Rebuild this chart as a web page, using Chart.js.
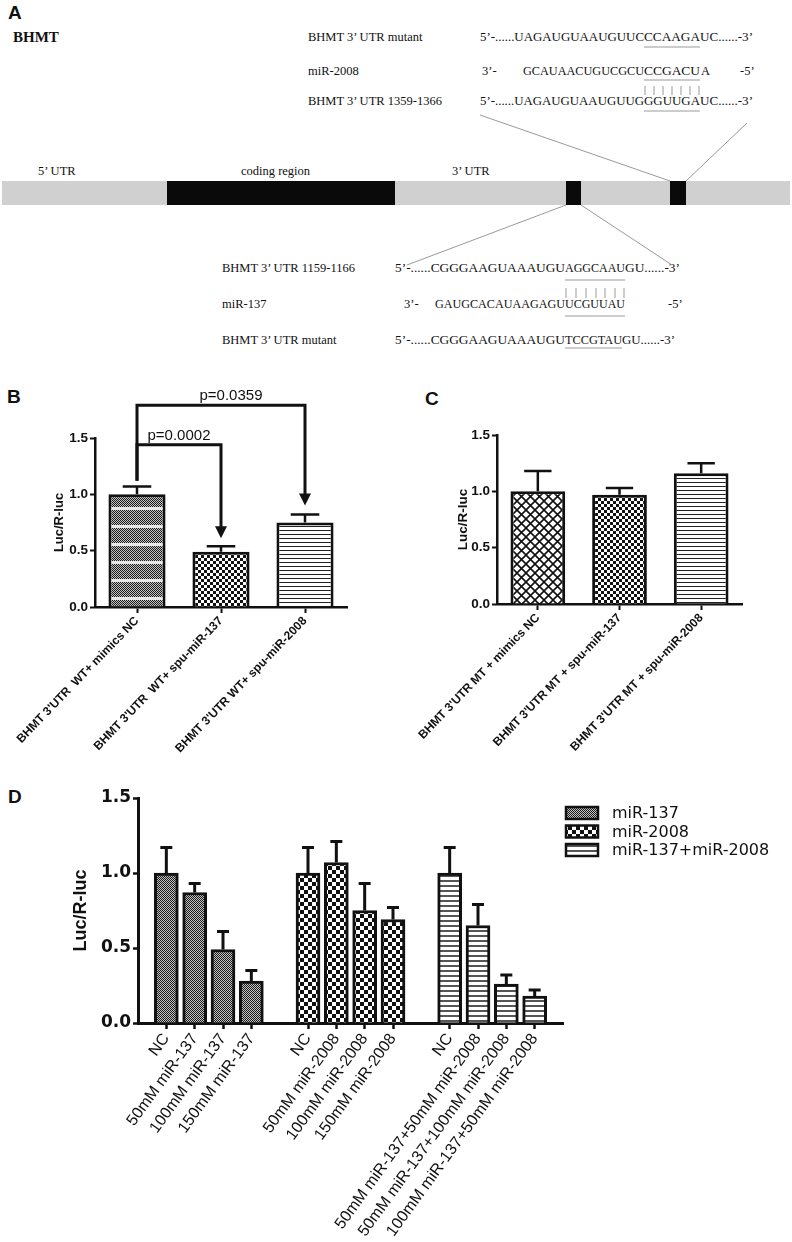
<!DOCTYPE html>
<html>
<head>
<meta charset="utf-8">
<title>BHMT 3' UTR luciferase assays</title>
<script src="https://cdn.jsdelivr.net/npm/chart.js@4.4.1/dist/chart.umd.min.js"></script>
<style>
  body { margin: 0; background: #fff; }
  #page { position: relative; width: 792px; height: 1242px; overflow: hidden; }
  #page svg, #page canvas { position: absolute; }
  .seq { font-family: "Liberation Serif", "Times New Roman", serif; font-size: 12.5px; fill: #111; }
  .tag { font-family: "Liberation Sans Narrow", "Liberation Sans", Arial, sans-serif; font-weight: bold; font-size: 19px; fill: #111; }
  .thin { stroke: #999; stroke-width: 1; fill: none; }
</style>
</head>
<body>
<div id="page">
<svg width="792" height="1242" style="left:0;top:0">
  <text class="tag" x="8" y="19">A</text>
  <text class="tag" x="7" y="403">B</text>
  <text class="tag" x="425" y="405">C</text>
  <text class="tag" x="8" y="803">D</text>

  <g class="seq">
    <text x="13" y="42" font-weight="bold" font-size="15">BHMT</text>

    <text x="308" y="41">BHMT 3’ UTR mutant</text>
    <text x="480" y="41" textLength="164" lengthAdjust="spacingAndGlyphs">5’-......UAGAUGUAAUGUUC</text>
    <text x="644" y="41" textLength="56" lengthAdjust="spacingAndGlyphs">CCAAGA</text>
    <text x="700" y="41" textLength="53" lengthAdjust="spacingAndGlyphs">UC......-3’</text>

    <text x="308" y="75">miR-2008</text>
    <text x="482" y="75">3’-</text>
    <text x="523" y="75" textLength="121" lengthAdjust="spacingAndGlyphs">GCAUAACUGUCGCU</text>
    <text x="644" y="75" textLength="56" lengthAdjust="spacingAndGlyphs">CCGACU</text>
    <text x="701" y="75">A</text>
    <text x="740" y="75">-5’</text>

    <text x="308" y="105">BHMT 3’ UTR 1359-1366</text>
    <text x="480" y="105" textLength="164" lengthAdjust="spacingAndGlyphs">5’-......UAGAUGUAAUGUUG</text>
    <text x="644" y="105" textLength="56" lengthAdjust="spacingAndGlyphs">GGUUGA</text>
    <text x="700" y="105" textLength="53" lengthAdjust="spacingAndGlyphs">UC......-3’</text>

    <text x="38" y="175">5’ UTR</text>
    <text x="241" y="175">coding region</text>
    <text x="452" y="175">3’ UTR</text>

    <text x="222" y="272">BHMT 3’ UTR 1159-1166</text>
    <text x="395" y="272" textLength="170" lengthAdjust="spacingAndGlyphs">5’-......CGGGAAGUAAAUGU</text>
    <text x="565" y="272" textLength="60" lengthAdjust="spacingAndGlyphs">AGGCAAU</text>
    <text x="625" y="272" textLength="55" lengthAdjust="spacingAndGlyphs">GU......-3’</text>

    <text x="222" y="308">miR-137</text>
    <text x="404" y="308">3’-</text>
    <text x="435" y="308" textLength="130" lengthAdjust="spacingAndGlyphs">GAUGCACAUAAGAGU</text>
    <text x="565" y="308" textLength="60" lengthAdjust="spacingAndGlyphs">UCGUUAU</text>
    <text x="668" y="308">-5’</text>

    <text x="222" y="344">BHMT 3’ UTR mutant</text>
    <text x="395" y="344" textLength="170" lengthAdjust="spacingAndGlyphs">5’-......CGGGAAGUAAAUGU</text>
    <text x="565" y="344" textLength="57" lengthAdjust="spacingAndGlyphs">TCCGTAU</text>
    <text x="622" y="344" textLength="53" lengthAdjust="spacingAndGlyphs">GU......-3’</text>
  </g>

  <!-- underlines and pairing ticks -->
  <path class="thin" d="M644 47H700 M644 80H700 M644 111H700 M565 280H625 M565 316H625 M565 348H622"/>
  <path class="thin" d="M645 86v9 M654 86v9 M663 86v9 M672 86v9 M681 86v9 M690 86v9 M699 86v9
                        M566 288v10 M576 288v10 M586 288v10 M596 288v10 M605 288v10 M615 288v10 M624 288v10"/>

  <!-- transcript -->
  <rect x="2" y="181" width="788" height="24" fill="#d0d0d0"/>
  <rect x="167" y="181" width="228" height="24" fill="#0a0a0a"/>
  <rect x="566" y="181" width="15" height="24" fill="#0a0a0a"/>
  <rect x="670" y="181" width="16" height="24" fill="#0a0a0a"/>
  <path class="thin" d="M480 115L670 181 M747 123L686 181 M566 205L407 265 M581 205L672 265"/>
</svg>

<canvas id="chartB" width="400" height="440" style="left:0;top:330px"></canvas>
<canvas id="chartC" width="392" height="440" style="left:400px;top:330px"></canvas>
<canvas id="chartD" width="792" height="472" style="left:0;top:770px"></canvas>
</div>

<script>
'use strict';

// ---- panel B ----
const bLabels = ["BHMT 3'UTR  WT+ mimics NC", "BHMT 3'UTR  WT+ spu-miR-137", "BHMT 3'UTR WT+ spu-miR-2008"];
const bValues = [1.00, 0.49, 0.75];
const bErrors = [0.07, 0.05, 0.07];
const bPValues = ['p=0.0359', 'p=0.0002'];

// ---- panel C ----
const cLabels = ["BHMT 3'UTR MT + mimics NC", "BHMT 3'UTR MT + spu-miR-137", "BHMT 3'UTR MT + spu-miR-2008"];
const cValues = [1.00, 0.97, 1.16];
const cErrors = [0.18, 0.06, 0.09];

// ---- panel D ----
const dSeries = ['miR-137', 'miR-2008', 'miR-137+miR-2008'];
const dLabels137 = ['NC', '50mM miR-137', '100mM miR-137', '150mM miR-137'];
const dLabels2008 = ['NC', '50mM miR-2008', '100mM miR-2008', '150mM miR-2008'];
const dLabelsBoth = ['NC', '50mM miR-137+50mM miR-2008', '50mM miR-137+100mM miR-2008', '100mM miR-137+50mM miR-2008'];
const d137 = [1.00, 0.87, 0.49, 0.28];
const d137Err = [0.17, 0.06, 0.12, 0.07];
const d2008 = [1.00, 1.07, 0.75, 0.69];
const d2008Err = [0.17, 0.14, 0.18, 0.08];
const dBoth = [1.00, 0.65, 0.26, 0.18];
const dBothErr = [0.17, 0.14, 0.06, 0.04];

const yTicks = [0, 0.5, 1.0, 1.5];

Chart.defaults.font.family = '"Liberation Sans", Arial, sans-serif';
Chart.defaults.color = '#111';

// fill patterns (graphpad style)
function tile(w, h, draw) {
  const c = document.createElement('canvas');
  c.width = w; c.height = h;
  const g = c.getContext('2d');
  g.fillStyle = '#fff';
  g.fillRect(0, 0, w, h);
  draw(g);
  return g.createPattern(c, 'repeat');
}
const fineStriped = tile(2, 18, g => {
  g.fillStyle = '#c4c4c4'; g.fillRect(0, 0, 2, 15);
  g.fillStyle = '#e8e8e8'; g.fillRect(0, 15, 2, 3);
  g.fillStyle = '#1a1a1a';
  for (let y = 0; y < 15; y++) g.fillRect(y % 2, y, 1, 1);
});
const fine = tile(2, 2, g => {
  g.fillStyle = '#c4c4c4'; g.fillRect(0, 0, 2, 2);
  g.fillStyle = '#1a1a1a'; g.fillRect(0, 0, 1, 1); g.fillRect(1, 1, 1, 1);
});
const checker = n => tile(2 * n, 2 * n, g => {
  g.fillStyle = '#111'; g.fillRect(0, 0, n, n); g.fillRect(n, n, n, n);
});
const lines = (n, w, col) => tile(1, n, g => { g.fillStyle = col; g.fillRect(0, 0, 1, w); });
const cross = tile(9, 9, g => {
  g.strokeStyle = '#111'; g.lineWidth = 1.6;
  g.beginPath();
  g.moveTo(-1, -1); g.lineTo(10, 10);
  g.moveTo(10, -1); g.lineTo(-1, 10);
  g.stroke();
});

const errorBars = {
  id: 'errorBars',
  afterDatasetsDraw(chart, args, o) {
    const ctx = chart.ctx, y = chart.scales.y;
    ctx.save();
    ctx.strokeStyle = '#111';
    ctx.lineWidth = o.width;
    chart.data.datasets.forEach((ds, di) => {
      chart.getDatasetMeta(di).data.forEach((bar, i) => {
        const v = ds.data[i], e = ds.errors[i];
        if (v == null || e == null) return;
        const top = y.getPixelForValue(v + e);
        const half = bar.width * 0.25;
        ctx.beginPath();
        ctx.moveTo(bar.x, bar.y);
        ctx.lineTo(bar.x, top);
        ctx.moveTo(bar.x - half, top);
        ctx.lineTo(bar.x + half, top);
        ctx.stroke();
      });
    });
    ctx.restore();
  }
};

const brackets = {
  id: 'brackets',
  afterDraw(chart, args, o) {
    const {ctx, scales: {x, y}} = chart;
    ctx.save();
    ctx.strokeStyle = '#111';
    ctx.fillStyle = '#111';
    ctx.lineWidth = 3;
    ctx.lineJoin = 'miter';
    o.items.forEach(b => {
      const x0 = x.getPixelForValue(b.from), x1 = x.getPixelForValue(b.to);
      const yl = y.getPixelForValue(b.level), ys = y.getPixelForValue(b.stem), yt = y.getPixelForValue(b.tip);
      ctx.beginPath();
      ctx.moveTo(x0, ys);
      ctx.lineTo(x0, yl);
      ctx.lineTo(x1, yl);
      ctx.lineTo(x1, yt - 10);
      ctx.stroke();
      ctx.beginPath();
      ctx.moveTo(x1 - 6, yt - 12);
      ctx.lineTo(x1 + 6, yt - 12);
      ctx.lineTo(x1, yt);
      ctx.closePath();
      ctx.fill();
      ctx.font = '15px "Liberation Sans", Arial, sans-serif';
      ctx.textAlign = 'center';
      ctx.fillText(b.text, (x0 + x1) / 2 + b.shift, yl - 5);
    });
    ctx.restore();
  }
};

const patternLegend = {
  id: 'patternLegend',
  afterDraw(chart, args, o) {
    const ctx = chart.ctx;
    ctx.save();
    chart.data.datasets.forEach((ds, i) => {
      const yc = o.y + i * o.gap;
      ctx.fillStyle = ds.backgroundColor;
      ctx.fillRect(o.x, yc - o.h / 2, o.w, o.h);
      ctx.lineWidth = 2.5;
      ctx.strokeStyle = '#111';
      ctx.strokeRect(o.x, yc - o.h / 2, o.w, o.h);
      ctx.fillStyle = '#111';
      ctx.font = o.font;
      ctx.textBaseline = 'middle';
      ctx.fillText(ds.label, o.x + o.w + 14, yc + 1);
    });
    ctx.restore();
  }
};

function barChart(id, c) {
  return new Chart(document.getElementById(id), {
    type: 'bar',
    data: { labels: c.labels, datasets: c.datasets },
    options: {
      responsive: false,
      animation: false,
      events: [],
      layout: { padding: c.padding },
      plugins: Object.assign({ legend: { display: false }, tooltip: { enabled: false } }, c.plugins),
      scales: {
        x: {
          z: 1,
          offset: c.offset,
          grid: { drawOnChartArea: false, offset: false, tickLength: 6, tickWidth: c.axisW - 0.5, tickColor: c.tickColor || '#111' },
          border: { display: true, color: '#111', width: c.axisW },
          ticks: { autoSkip: false, minRotation: c.rot, maxRotation: c.rot, font: c.xFont, padding: 1 },
          afterFit: s => { s.height = c.xHeight; s.paddingLeft = 0; s.paddingRight = 0; }
        },
        y: {
          z: 1,
          min: 0, max: 1.5,
          afterBuildTicks: s => { s.ticks = yTicks.map(v => ({ value: v })); },
          grid: { drawOnChartArea: false, tickLength: 5, tickWidth: c.axisW - 0.5, tickColor: '#111' },
          border: { display: true, color: '#111', width: c.axisW },
          ticks: { callback: v => v.toFixed(1), font: c.yFont, padding: 2 },
          title: { display: true, text: 'Luc/R-luc', font: c.titleFont, padding: { top: c.titlePad, bottom: 0 } },
          afterFit: s => { s.width = c.yWidth; }
        }
      }
    },
    plugins: c.extra
  });
}

// panel B
barChart('chartB', {
  labels: bLabels,
  datasets: [{
    data: bValues, errors: bErrors,
    backgroundColor: [fineStriped, checker(3), lines(4, 1, '#222')],
    borderColor: '#111', borderWidth: 3,
    barPercentage: 0.68, categoryPercentage: 1
  }],
  padding: { top: 108, right: 53, left: 0, bottom: 0 },
  offset: true, rot: 46, axisW: 2.5,
  xFont: { size: 12, weight: 'bold' }, yFont: { size: 13.5, weight: 'bold' },
  titleFont: { size: 13, weight: 'bold' }, titlePad: 52,
  xHeight: 163, yWidth: 95,
  plugins: {
    errorBars: { width: 2.5 },
    brackets: { items: [
      { from: 0, to: 2, level: 1.79, stem: 1.12, tip: 0.90, text: bPValues[0], shift: 10 },
      { from: 0, to: 1, level: 1.44, stem: 1.12, tip: 0.61, text: bPValues[1], shift: 0 }
    ] }
  },
  extra: [errorBars, brackets]
});

// panel C
barChart('chartC', {
  labels: cLabels,
  datasets: [{
    data: cValues, errors: cErrors,
    backgroundColor: [cross, checker(3), lines(4, 1, '#222')],
    borderColor: '#111', borderWidth: 3,
    barPercentage: 0.67, categoryPercentage: 1
  }],
  padding: { top: 105, right: 50, left: 0, bottom: 0 },
  offset: true, rot: 46, axisW: 2.5,
  xFont: { size: 12, weight: 'bold' }, yFont: { size: 13.5, weight: 'bold' },
  titleFont: { size: 13.5, weight: 'bold' }, titlePad: 55,
  xHeight: 166, yWidth: 97,
  plugins: { errorBars: { width: 2.5 } },
  extra: [errorBars]
});

// panel D: three groups on one category axis, blank slots between groups
const dCategories = [''].concat(dLabels137, [''], dLabels2008, [''], dLabelsBoth, ['']);
function slot(values, start) {
  const out = dCategories.map(() => null);
  values.forEach((v, i) => { out[start + i] = v; });
  return out;
}
const dFills = [fine, checker(4), lines(5, 2, '#555')];
const dGroups = [[d137, d137Err], [d2008, d2008Err], [dBoth, dBothErr]];

barChart('chartD', {
  labels: dCategories,
  datasets: dGroups.map((g, k) => ({
    label: dSeries[k],
    data: slot(g[0], 1 + k * 5),
    errors: slot(g[1], 1 + k * 5),
    backgroundColor: dFills[k],
    borderColor: '#111', borderWidth: 3,
    barThickness: 24, grouped: false
  })),
  padding: { top: 28, right: 229, left: 0, bottom: 0 },
  offset: false, rot: 54, axisW: 3,
  tickColor: ctx => (dCategories[ctx.index] ? '#111' : 'rgba(0,0,0,0)'),
  xFont: { size: 16 }, yFont: { family: '"DejaVu Sans", sans-serif', size: 17, weight: 'bold' },
  titleFont: { size: 18, weight: 'bold' }, titlePad: 70,
  xHeight: 219, yWidth: 138,
  plugins: {
    errorBars: { width: 3 },
    patternLegend: { x: 566, y: 43, gap: 18.5, w: 32, h: 12, font: '16px "DejaVu Sans", sans-serif' }
  },
  extra: [errorBars, patternLegend]
});
</script>
</body>
</html>
